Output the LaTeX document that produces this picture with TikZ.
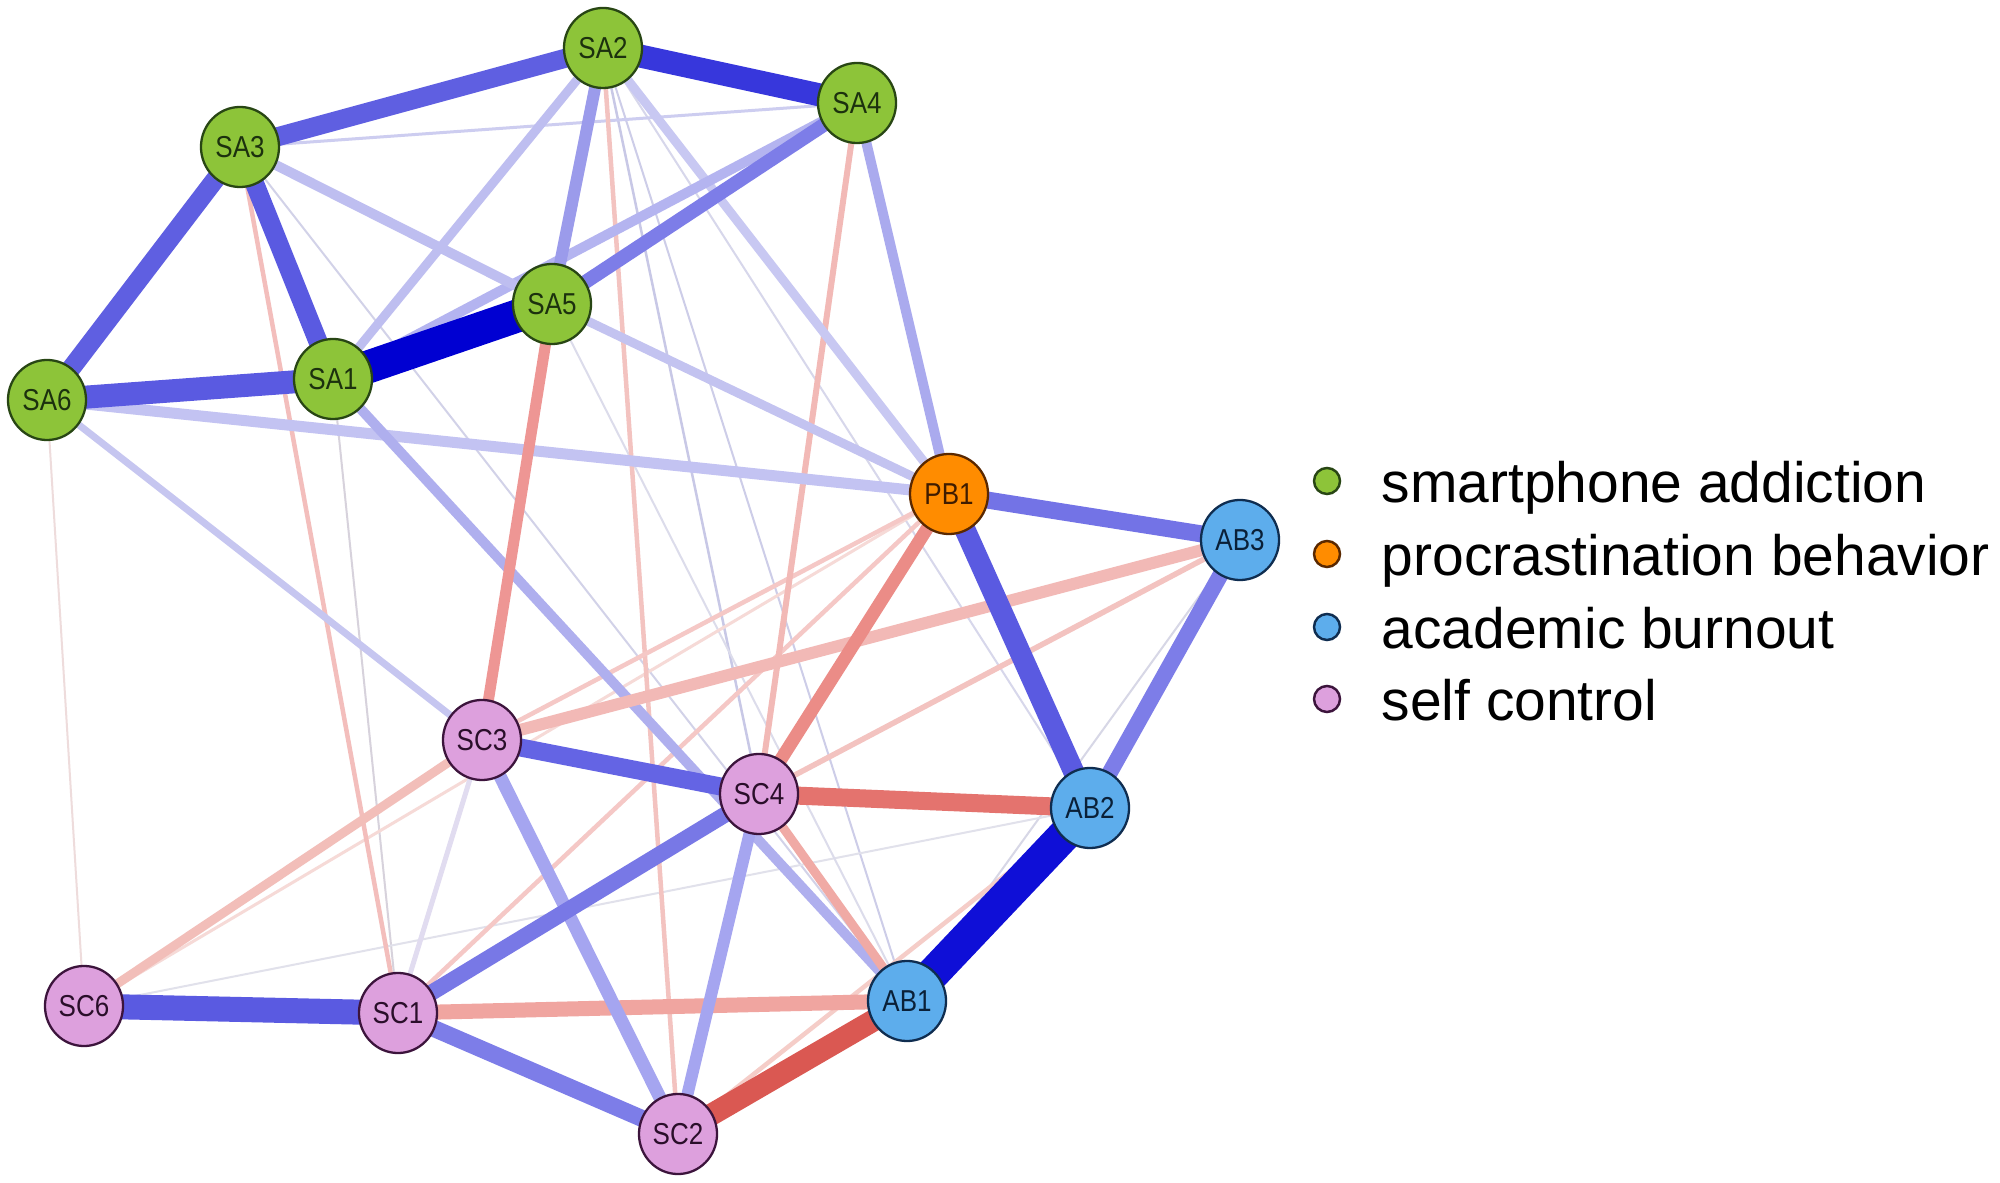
\documentclass[tikz,border=0pt]{standalone}
\usepackage{fontspec}
\usepackage{graphicx}
\setmainfont{Liberation Sans}
\usetikzlibrary{shapes.geometric}
\pgfdeclarelayer{back}
\pgfdeclarelayer{bg}
\pgfsetlayers{back,bg,main}
\definecolor{cgreen}{RGB}{141,196,57}
\definecolor{corange}{RGB}{255,140,0}
\definecolor{cblue}{RGB}{93,173,236}
\definecolor{cpink}{RGB}{221,160,221}
\definecolor{bgreen}{RGB}{40,70,20}
\definecolor{borange}{RGB}{90,40,0}
\definecolor{bblue}{RGB}{15,45,80}
\definecolor{bpink}{RGB}{60,20,60}
\newcommand\nlbl[1]{\scalebox{0.86}[1]{#1}}
\begin{document}
\begin{tikzpicture}[x=0.01cm,y=-0.01cm,
  nd/.style={ellipse, line width=0.65pt, minimum width=0.78cm, minimum height=0.80cm, inner sep=0pt, font=\fontsize{8.6pt}{8.6pt}\selectfont},
  sa/.style={nd, fill=cgreen, draw=bgreen, text=bgreen!70!black},
  pb/.style={nd, fill=corange, draw=borange, text=borange!70!black},
  ab/.style={nd, fill=cblue, draw=bblue, text=bblue!70!black},
  sc/.style={nd, fill=cpink, draw=bpink, text=bpink!70!black},
  e/.style={line cap=butt},
  legdot/.style={circle, minimum size=0.26cm, inner sep=0pt, line width=0.7pt},
  legtxt/.style={anchor=base west, inner sep=0pt, font=\fontsize{16.2pt}{18pt}\selectfont}]
\useasboundingbox (0,0) rectangle (2000,1183);
\begin{pgfonlayer}{back}
\fill[white] (0,0) rectangle (2000,1183);
\end{pgfonlayer}

% nodes
\node[sa] (SA2) at (603,48) {\nlbl{SA2}};
\node[sa] (SA4) at (857,103) {\nlbl{SA4}};
\node[sa] (SA3) at (240,147) {\nlbl{SA3}};
\node[sa] (SA5) at (552,304) {\nlbl{SA5}};
\node[sa] (SA1) at (333,379) {\nlbl{SA1}};
\node[sa] (SA6) at (47,400) {\nlbl{SA6}};
\node[pb] (PB1) at (949,494) {\nlbl{PB1}};
\node[ab] (AB3) at (1240,540) {\nlbl{AB3}};
\node[sc] (SC3) at (482,740) {\nlbl{SC3}};
\node[sc] (SC4) at (759,794) {\nlbl{SC4}};
\node[ab] (AB2) at (1090,808) {\nlbl{AB2}};
\node[ab] (AB1) at (907,1001) {\nlbl{AB1}};
\node[sc] (SC6) at (84,1006) {\nlbl{SC6}};
\node[sc] (SC1) at (398,1013) {\nlbl{SC1}};
\node[sc] (SC2) at (678,1134) {\nlbl{SC2}};

\begin{pgfonlayer}{bg}
% faint edges
\draw[e, draw={rgb,255:red,215;green,210;blue,220}, line width=0.02cm] (SA1.center) -- (SC1.center);
\draw[e, draw={rgb,255:red,238;green,220;blue,220}, line width=0.02cm] (SA6.center) -- (SC6.center);
\draw[e, draw={rgb,255:red,210;green,210;blue,232}, line width=0.02cm] (SA3.center) -- (AB1.center);
\draw[e, draw={rgb,255:red,200;green,200;blue,230}, line width=0.025cm] (SA2.center) -- (SC4.center);
\draw[e, draw={rgb,255:red,205;green,205;blue,232}, line width=0.02cm] (SA2.center) -- (AB1.center);
\draw[e, draw={rgb,255:red,215;green,215;blue,235}, line width=0.02cm] (SA2.center) -- (AB2.center);
\draw[e, draw={rgb,255:red,215;green,215;blue,230}, line width=0.02cm] (AB3.center) -- (AB1.center);
\draw[e, draw={rgb,255:red,225;green,225;blue,235}, line width=0.02cm] (SC6.center) -- (AB2.center);
\draw[e, draw={rgb,255:red,220;green,220;blue,235}, line width=0.02cm] (SA5.center) -- (AB1.center);
\draw[e, draw={rgb,255:red,246;green,218;blue,215}, line width=0.03cm] (SC6.center) -- (PB1.center);
\draw[e, draw={rgb,255:red,205;green,205;blue,240}, line width=0.03cm] (SA3.center) -- (SA4.center);
% light red
\draw[e, draw={rgb,255:red,243;green,190;blue,188}, line width=0.045cm] (SA3.center) -- (SC1.center);
\draw[e, draw={rgb,255:red,243;green,195;blue,192}, line width=0.045cm] (SA2.center) -- (SC2.center);
\draw[e, draw={rgb,255:red,245;green,200;blue,198}, line width=0.045cm] (PB1.center) -- (SC3.center);
\draw[e, draw={rgb,255:red,245;green,200;blue,198}, line width=0.045cm] (PB1.center) -- (SC1.center);
\draw[e, draw={rgb,255:red,245;green,205;blue,200}, line width=0.045cm] (SC2.center) -- (AB2.center);
\draw[e, draw={rgb,255:red,242;green,185;blue,182}, line width=0.06cm] (SA4.center) -- (SC4.center);
\draw[e, draw={rgb,255:red,243;green,195;blue,192}, line width=0.055cm] (SC4.center) -- (AB3.center);
\draw[e, draw={rgb,255:red,225;green,220;blue,240}, line width=0.05cm] (SC1.center) -- (SC3.center);
% light blue
\draw[e, draw={rgb,255:red,198;green,198;blue,240}, line width=0.07cm] (SA6.center) -- (SC3.center);
\draw[e, draw={rgb,255:red,190;green,190;blue,240}, line width=0.09cm] (SA2.center) -- (SA1.center);
\draw[e, draw={rgb,255:red,200;green,200;blue,242}, line width=0.09cm] (SA2.center) -- (PB1.center);
\draw[e, draw={rgb,255:red,195;green,195;blue,240}, line width=0.09cm] (SA5.center) -- (PB1.center);
\draw[e, draw={rgb,255:red,195;green,195;blue,242}, line width=0.11cm] (SA6.center) -- (PB1.center);
\draw[e, draw={rgb,255:red,180;green,180;blue,240}, line width=0.10cm] (SA1.center) -- (SA4.center);
\draw[e, draw={rgb,255:red,190;green,190;blue,240}, line width=0.10cm] (SA3.center) -- (SA5.center);
\draw[e, draw={rgb,255:red,175;green,175;blue,238}, line width=0.10cm] (SA1.center) -- (AB1.center);
\draw[e, draw={rgb,255:red,170;green,170;blue,238}, line width=0.10cm] (SA4.center) -- (PB1.center);
\draw[e, draw={rgb,255:red,155;green,155;blue,235}, line width=0.12cm] (SA2.center) -- (SA5.center);
% light/medium red
\draw[e, draw={rgb,255:red,242;green,190;blue,185}, line width=0.09cm] (SC6.center) -- (SC3.center);
\draw[e, draw={rgb,255:red,242;green,185;blue,182}, line width=0.12cm] (SC3.center) -- (AB3.center);
\draw[e, draw={rgb,255:red,238;green,150;blue,148}, line width=0.11cm] (SA5.center) -- (SC3.center);
\draw[e, draw={rgb,255:red,240;green,170;blue,165}, line width=0.09cm] (SC4.center) -- (AB1.center);
\draw[e, draw={rgb,255:red,240;green,165;blue,160}, line width=0.15cm] (SC1.center) -- (AB1.center);
\draw[e, draw={rgb,255:red,235;green,140;blue,135}, line width=0.13cm] (PB1.center) -- (SC4.center);
% medium blue
\draw[e, draw={rgb,255:red,165;green,165;blue,240}, line width=0.13cm] (SC3.center) -- (SC2.center);
\draw[e, draw={rgb,255:red,165;green,165;blue,240}, line width=0.12cm] (SC4.center) -- (SC2.center);
\draw[e, draw={rgb,255:red,125;green,125;blue,232}, line width=0.14cm] (SA5.center) -- (SA4.center);
\draw[e, draw={rgb,255:red,125;green,125;blue,232}, line width=0.16cm] (AB3.center) -- (AB2.center);
\draw[e, draw={rgb,255:red,125;green,125;blue,232}, line width=0.17cm] (SC1.center) -- (SC2.center);
\draw[e, draw={rgb,255:red,120;green,120;blue,230}, line width=0.16cm] (SC1.center) -- (SC4.center);
\draw[e, draw={rgb,255:red,115;green,115;blue,230}, line width=0.17cm] (PB1.center) -- (AB3.center);
\draw[e, draw={rgb,255:red,100;green,100;blue,228}, line width=0.18cm] (SC3.center) -- (SC4.center);
\draw[e, draw={rgb,255:red,90;green,90;blue,225}, line width=0.21cm] (PB1.center) -- (AB2.center);
\draw[e, draw={rgb,255:red,95;green,95;blue,225}, line width=0.19cm] (SA3.center) -- (SA2.center);
\draw[e, draw={rgb,255:red,95;green,95;blue,225}, line width=0.19cm] (SA3.center) -- (SA6.center);
\draw[e, draw={rgb,255:red,90;green,90;blue,225}, line width=0.19cm] (SA3.center) -- (SA1.center);
\draw[e, draw={rgb,255:red,90;green,90;blue,225}, line width=0.23cm] (SA6.center) -- (SA1.center);
\draw[e, draw={rgb,255:red,90;green,90;blue,225}, line width=0.25cm] (SC6.center) -- (SC1.center);
% strong
\draw[e, draw={rgb,255:red,228;green,115;blue,110}, line width=0.18cm] (SC4.center) -- (AB2.center);
\draw[e, draw={rgb,255:red,218;green,88;blue,82}, line width=0.22cm] (SC2.center) -- (AB1.center);
\draw[e, draw={rgb,255:red,55;green,55;blue,220}, line width=0.23cm] (SA2.center) -- (SA4.center);
\draw[e, draw={rgb,255:red,0;green,0;blue,210}, line width=0.33cm] (SA1.center) -- (SA5.center);
\draw[e, draw={rgb,255:red,15;green,15;blue,215}, line width=0.33cm] (AB1.center) -- (AB2.center);
\end{pgfonlayer}

% legend
\node[legdot, fill=cgreen, draw=bgreen] (L1) at (1327,481) {};
\node[legdot, fill=corange, draw=borange] (L2) at (1327,554) {};
\node[legdot, fill=cblue, draw=bblue] (L3) at (1327,627) {};
\node[legdot, fill=cpink, draw=bpink] (L4) at (1327,699) {};
\node[legtxt] (T1) at (1381,503) {smartphone addiction};
\node[legtxt] (T2) at (1381,576) {procrastination behavior};
\node[legtxt] (T3) at (1381,649) {academic burnout};
\node[legtxt] (T4) at (1381,721) {self control};
\end{tikzpicture}
\end{document}
